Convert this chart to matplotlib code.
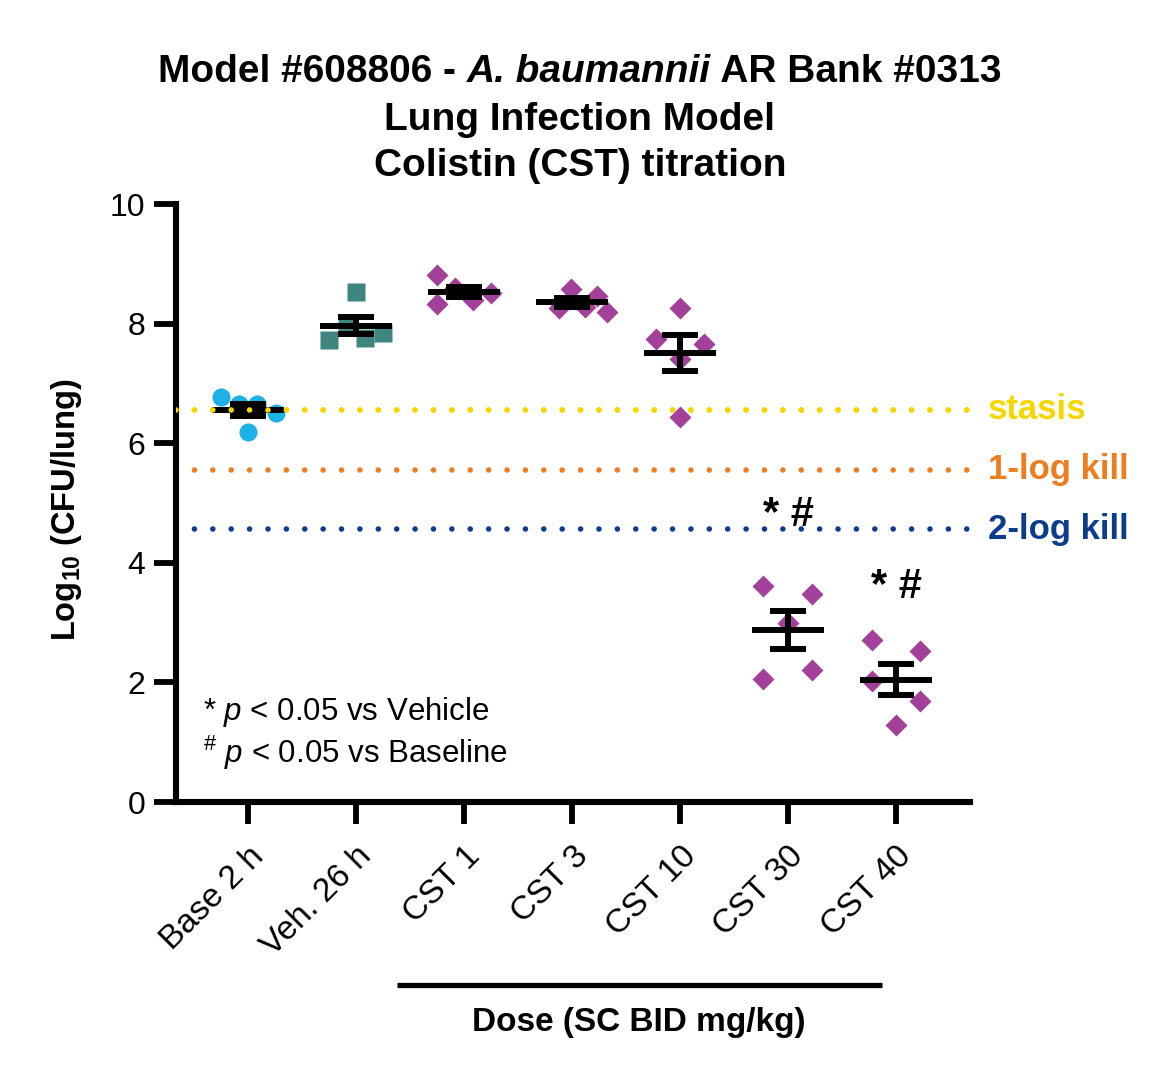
import numpy as np
import matplotlib
matplotlib.use("Agg")
import matplotlib.pyplot as plt

plt.rcParams['font.family'] = ['Liberation Sans', 'DejaVu Sans']
plt.rcParams['mathtext.fontset'] = 'custom'
plt.rcParams['mathtext.rm'] = 'Liberation Sans'
plt.rcParams['mathtext.it'] = 'Liberation Sans:italic'
plt.rcParams['mathtext.bf'] = 'Liberation Sans:bold'

# groups and individual animals (log10 CFU/lung)
groups = ['Base 2 h', 'Veh. 26 h', 'CST 1', 'CST 3', 'CST 10', 'CST 30', 'CST 40']
base_2h = [6.77, 6.66, 6.66, 6.51, 6.19]
veh_26h = [8.53, 7.73, 7.76, 7.85, 7.97]
cst_1 = [8.81, 8.33, 8.60, 8.40, 8.51]
cst_3 = [8.58, 8.26, 8.28, 8.46, 8.19]
cst_10 = [8.26, 7.74, 7.66, 7.41, 6.44]
cst_30 = [3.61, 3.48, 2.99, 2.21, 2.06]
cst_40 = [2.71, 2.53, 2.02, 1.69, 1.29]
# horizontal scatter offsets of the points (category units)
jit_base = [-0.25, -0.08, 0.08, 0.26, 0.0]
jit_veh = [0.0, -0.25, 0.08, 0.25, -0.08]
jit_cst1 = [-0.25, -0.25, -0.08, 0.08, 0.25]
jit_cst3 = [-0.01, -0.12, 0.12, 0.23, 0.32]
jit_cst10 = [0.0, -0.22, 0.22, 0.0, 0.0]
jit_cst30 = [-0.23, 0.22, 0.0, 0.22, -0.23]
jit_cst40 = [-0.22, 0.22, -0.22, 0.22, 0.0]

stasis = 6.56
kill1 = 5.56
kill2 = 4.56
sig_groups = [5, 6]
sig_y = [4.8, 3.6]

data = [base_2h, veh_26h, cst_1, cst_3, cst_10, cst_30, cst_40]
jits = [jit_base, jit_veh, jit_cst1, jit_cst3, jit_cst10, jit_cst30, jit_cst40]

c_base = '#1cb2e6'
c_veh = '#3f8580'
c_cst = '#a2409a'
c_stasis = '#f7d600'
c_kill1 = '#ee7d1f'
c_kill2 = '#0b3d8c'

fig = plt.figure(figsize=(11.69, 10.85), dpi=100)
ax = fig.add_axes([176 / 1169, 1 - 802 / 1085, 794 / 1169, 598 / 1085])

# reference lines
dot = (0, (0.01, 3.3))
for yv, col in zip([stasis, kill1, kill2], [c_stasis, c_kill1, c_kill2]):
    ax.axhline(yv, color=col, lw=4.0, ls=dot, dash_capstyle='round', zorder=1)

for i, (vals, jt) in enumerate(zip(data, jits)):
    xs = i + np.array(jt)
    if i == 0:
        ax.plot(xs, vals, 'o', ms=13, color=c_base, mec='none', zorder=2)
    elif i == 1:
        ax.plot(xs, vals, 's', ms=13, color=c_veh, mec='none', zorder=2)
    else:
        ax.plot(xs, vals, 'D', ms=11.5, color=c_cst, mec='none', zorder=2)
    m = np.mean(vals)
    sem = np.std(vals, ddof=1) / np.sqrt(len(vals))
    ax.hlines(m, i - 0.33, i + 0.33, color='black', lw=4.3, zorder=3)
    ax.errorbar(i, m, yerr=sem, fmt='none', ecolor='black', elinewidth=4.3,
                capsize=13, capthick=4.3, zorder=3)

# stasis dots sit on top of the baseline group in the original
ax.axhline(stasis, color=c_stasis, lw=4.0, ls=dot, dash_capstyle='round', zorder=4)

for g, yv in zip(sig_groups, sig_y):
    ax.text(g, yv, '* #', ha='center', va='center', fontsize=30, fontweight='bold')

ax.set_xlim(-0.667, 6.685)
ax.set_ylim(0, 10)
ax.set_yticks([0, 2, 4, 6, 8, 10])
ax.set_xticks(range(len(groups)))
ax.set_xticklabels(groups, rotation=45, ha='right', va='top', rotation_mode='anchor',
                   fontsize=24)
ax.tick_params(axis='y', labelsize=23, length=16, width=4.2, pad=6)
ax.tick_params(axis='x', length=16, width=4.2, pad=12)
for s in ['top', 'right']:
    ax.spines[s].set_visible(False)
for s in ['left', 'bottom']:
    ax.spines[s].set_linewidth(4.4)

# right-hand labels
ax.text(6.85, stasis, 'stasis', color=c_stasis, fontsize=25, fontweight='bold',
        va='center', ha='left', clip_on=False)
ax.text(6.85, kill1, '1-log kill', color=c_kill1, fontsize=25, fontweight='bold',
        va='center', ha='left', clip_on=False)
ax.text(6.85, kill2, '2-log kill', color=c_kill2, fontsize=25, fontweight='bold',
        va='center', ha='left', clip_on=False)

# significance notes
ax.text(0.034, 0.137, r'* $\mathit{p}$ < 0.05 vs Vehicle', transform=ax.transAxes,
        fontsize=22.5, va='baseline')
ax.text(0.034, 0.065, r'$^{\#}$ $\mathit{p}$ < 0.05 vs Baseline', transform=ax.transAxes,
        fontsize=22.5, va='baseline')

# dose bar
trans = ax.get_xaxis_transform()
ax.plot([1.38, 5.87], [-0.306, -0.306], color='black', lw=3.8, transform=trans,
        clip_on=False, solid_capstyle='butt')
fig.text(639 / 1169, 1 - 1022 / 1085, 'Dose (SC BID mg/kg)', ha='center', va='center',
         fontsize=24, fontweight='bold')

fig.text(66 / 1169, 1 - 510 / 1085, r'Log$_{\mathbf{10}}$ (CFU/lung)', rotation=90,
         ha='center', va='center', fontsize=23.5, fontweight='bold')

# title, first line built from pieces so the species name can be italic
pieces = [('Model #608806 - ', 'normal'), ('A. baumannii', 'italic'),
          (' AR Bank #0313', 'normal')]
renderer = fig.canvas.get_renderer()
y1 = 1 - 82 / 1085
objs = []
for txt, sty in pieces:
    objs.append(fig.text(0, y1, txt, ha='left', va='baseline', fontsize=28,
                         fontweight='bold', style=sty))
widths = [o.get_window_extent(renderer).width for o in objs]
x0 = 580 - sum(widths) / 2
for o, w in zip(objs, widths):
    o.set_x(x0 / 1169)
    x0 += w
fig.text(580 / 1169, 1 - 130 / 1085, 'Lung Infection Model',
         ha='center', va='baseline', fontsize=28, fontweight='bold')
fig.text(580 / 1169, 1 - 176 / 1085, 'Colistin (CST) titration',
         ha='center', va='baseline', fontsize=28, fontweight='bold')

fig.savefig('out.png', dpi=100)
